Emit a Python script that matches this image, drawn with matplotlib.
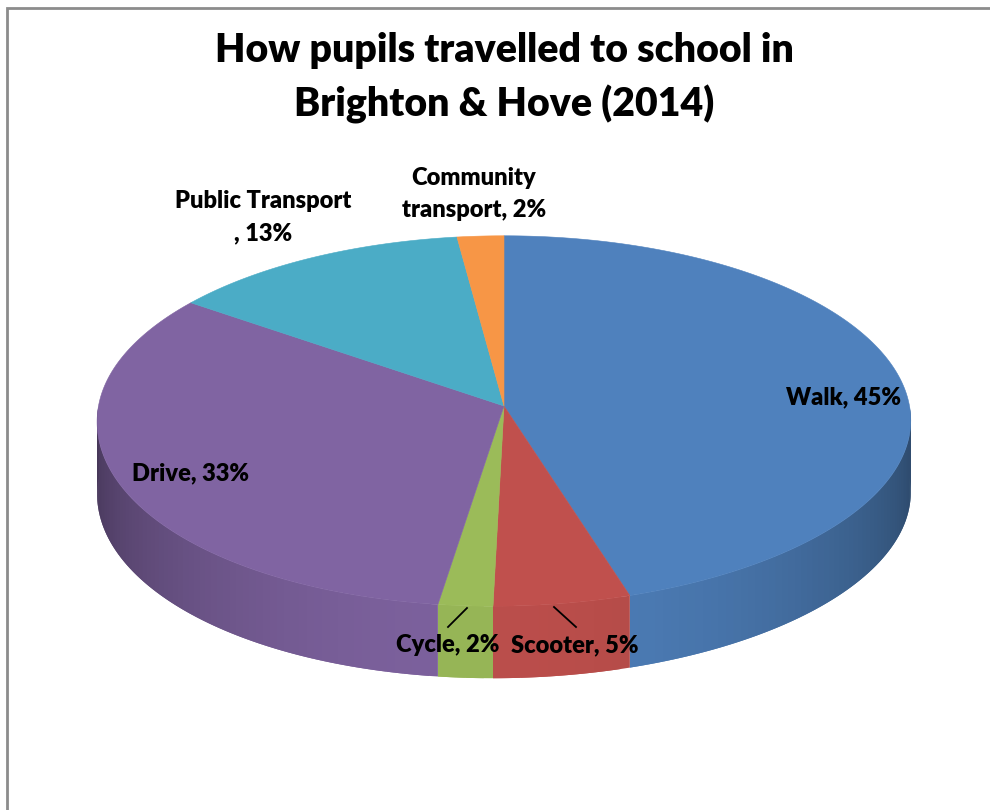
import numpy as np
import matplotlib
matplotlib.use('Agg')
import matplotlib.pyplot as plt
from matplotlib.colors import to_rgb
from matplotlib.patches import Polygon

plt.rcParams['font.family'] = ['Lato', 'DejaVu Sans']

categories = ['Walk', 'Scooter', 'Cycle', 'Drive', 'Public Transport\n', 'Community\ntransport']
values = [45, 5, 2, 33, 13, 2]
colors = ['#4F81BD', '#C0504D', '#9BBB59', '#8064A2', '#4BACC6', '#F79646']
title = 'How pupils travelled to school in\nBrighton & Hove (2014)'

# label centres in pixels
label_pos = [(843, 397), (575, 645), (448, 645), (191, 473), (263, 217), (474, 194)]
leaders = {1: ((554, 607), (576, 627)), 2: ((467, 608), (448, 627))}

cx, cy = 504, 406
radius_x, radius_y = 405.5, 184
persp = 0.081
lean = 11
depth = 72


def project(theta):
    # theta runs clockwise from twelve o'clock; the near half leans left a little
    d = 1 + persp * np.cos(theta)
    near = np.where(np.cos(theta) < 0, np.cos(theta) ** 2, 0)
    return cx + radius_x * np.sin(theta) / d - lean * near, cy - radius_y * np.cos(theta) / d


fig = plt.figure(figsize=(9.9, 8.1), dpi=100)
ax = fig.add_axes([0, 0, 1, 1])
ax.set_xlim(0, 990)
ax.set_ylim(810, 0)
ax.axis('off')

# chart frame, only the top and left edges are in view
ax.plot([6.5, 6.5, 990], [810, 8, 8], color='#8c8c8c', lw=2, solid_joinstyle='miter')

edges = np.cumsum([0] + values) / sum(values) * 2 * np.pi

# side wall first, in strips so the shading can vary around the rim;
# each strip runs under the next one so no seams show
for i, col in enumerate(colors):
    start = max(edges[i], np.pi / 2)
    stop = min(edges[i + 1], 3 * np.pi / 2)
    if stop <= start:
        continue
    steps = max(2, int((stop - start) / 0.02))
    th = np.linspace(start, stop, steps + 1)
    base = np.array(to_rgb(col))
    for k in range(steps):
        shade = 0.55 + 0.42 * abs(np.cos((th[k] + th[k + 1]) / 2)) ** 1.3
        arc = np.linspace(th[k], th[min(k + 2, steps)], 8)
        xs, ys = project(arc)
        pts = np.column_stack([np.r_[xs, xs[::-1]], np.r_[ys, ys[::-1] + depth]])
        ax.add_patch(Polygon(pts, closed=True, facecolor=base * shade, edgecolor='none', zorder=2))

# top face
for i, col in enumerate(colors):
    th = np.linspace(edges[i], edges[i + 1], 200)
    xs, ys = project(th)
    pts = np.column_stack([np.r_[cx, xs], np.r_[cy, ys]])
    ax.add_patch(Polygon(pts, closed=True, facecolor=col, edgecolor=col, lw=0.4, zorder=3))

for i, cat in enumerate(categories):
    ax.text(label_pos[i][0], label_pos[i][1], f'{cat}, {values[i]}%', ha='center', va='center',
            fontsize=17, fontweight='heavy', color='black', linespacing=1.58, zorder=5)

for p, q in leaders.values():
    ax.plot([p[0], q[0]], [p[1], q[1]], color='black', lw=1.3, zorder=4)

ax.text(504, 78, title, ha='center', va='center', fontsize=28.3, fontweight='heavy',
        color='black', linespacing=1.47, zorder=5)

fig.savefig('out.png', dpi=100)
